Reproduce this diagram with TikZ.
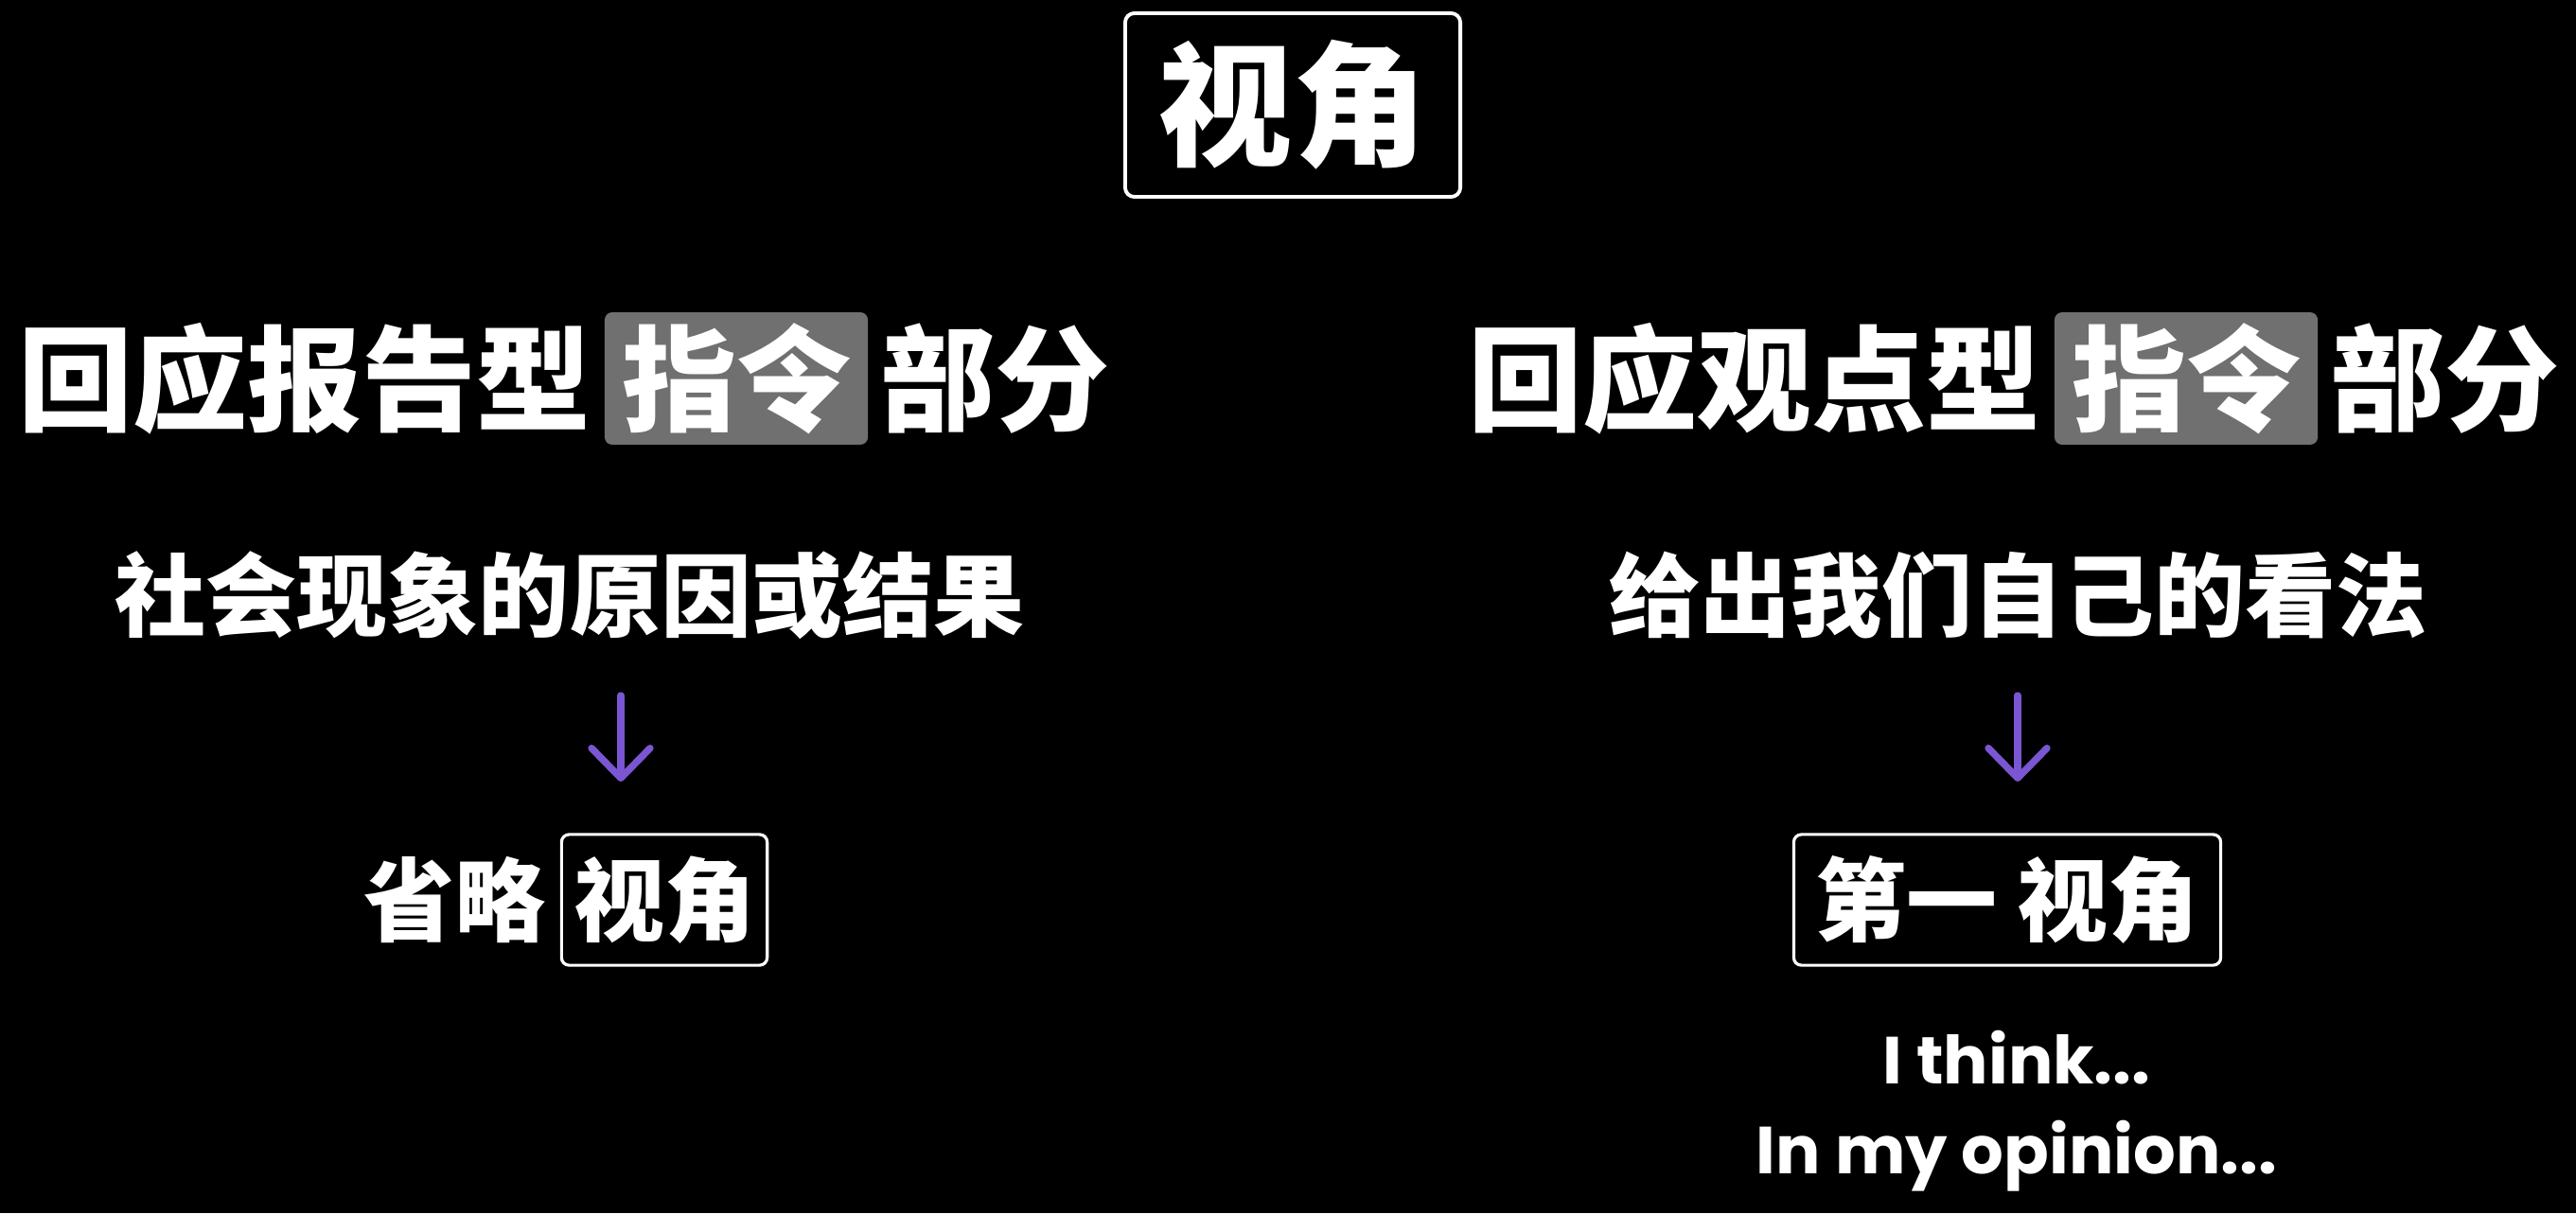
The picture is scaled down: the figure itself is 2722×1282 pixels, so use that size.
\documentclass[tikz,border=0pt]{standalone}
\usepackage{fontspec}
\usetikzlibrary{calc,arrows.meta}
\newfontfamily\cjk{Noto Sans CJK SC}
\newfontfamily\enf{Poppins}
\definecolor{hlgray}{RGB}{112,112,112}
\definecolor{arrowpurple}{RGB}{122,86,210}
\tikzset{
  titlebox/.style={draw=white, line width=1.1pt, rounded corners=2.8pt, fill=black, text=white,
    inner sep=0pt, minimum width=100.7pt, minimum height=55.2pt,
    font=\cjk\bfseries\fontsize{40.4pt}{40.4pt}\selectfont},
  headtext/.style={text=white, inner sep=0pt, font=\cjk\bfseries\fontsize{34.4pt}{34.4pt}\selectfont},
  hlbox/.style={headtext, fill=hlgray, rounded corners=2.3pt, minimum width=79.1pt, minimum height=39.8pt},
  bodytext/.style={text=white, inner sep=0pt, font=\cjk\bfseries\fontsize{27.3pt}{27.3pt}\selectfont},
  outbox/.style={bodytext, draw=white, line width=0.9pt, rounded corners=2.3pt, fill=black,
    minimum height=39.3pt},
  entext/.style={text=white, inner sep=0pt, font=\enf\bfseries\fontsize{20pt}{20pt}\selectfont},
  downarrow/.style={draw=arrowpurple, line width=2.1pt, line cap=round,
    -{Straight Barb[round, length=9pt, width=17.6pt]}},
}
\begin{document}
\begin{tikzpicture}[x=0.01cm, y=-0.01cm]
\fill[black] (0,0) rectangle (2722,1282);
\useasboundingbox (0,0) rectangle (2722,1282);

% title
\node[titlebox] (title) at (1366,111) {视角};

% left heading
\node[hlbox] (lhl) at (778,400) {指令};
\node[headtext, anchor=east] (lh1) at ($(lhl.west)+(-13,0)$) {回应报告型};
\node[headtext, anchor=west] (lh2) at ($(lhl.east)+(12,0)$) {部分};

% right heading
\node[hlbox] (rhl) at (2310,400) {指令};
\node[headtext, anchor=east] (rh1) at ($(rhl.west)+(-13,0)$) {回应观点型};
\node[headtext, anchor=west] (rh2) at ($(rhl.east)+(12,0)$) {部分};

% row 3
\node[bodytext] (lsub) at (602,629) {社会现象的原因或结果};
\node[bodytext] (rsub) at (2132,629) {给出我们自己的看法};

% arrows
\coordinate (la1) at (656,735);
\coordinate (la2) at (656,826);
\coordinate (ra1) at (2132,735);
\coordinate (ra2) at (2132,826);
\draw[downarrow] (la1) -- (la2);
\draw[downarrow] (ra1) -- (ra2);

% bottom left
\node[outbox, minimum width=61.8pt] (lbox) at (702,951) {视角};
\node[bodytext, anchor=east] (lomit) at ($(lbox.west)+(-15,0)$) {省略};

% bottom right
\node[outbox, minimum width=128.3pt] (rbox) at (2121,951) {第一 视角};

% english
\node[entext, anchor=base] (think) at (2131,1145) {I think...};
\node[entext, anchor=base] (opinion) at (2131,1240) {In my opinion...};
\end{tikzpicture}
\end{document}
